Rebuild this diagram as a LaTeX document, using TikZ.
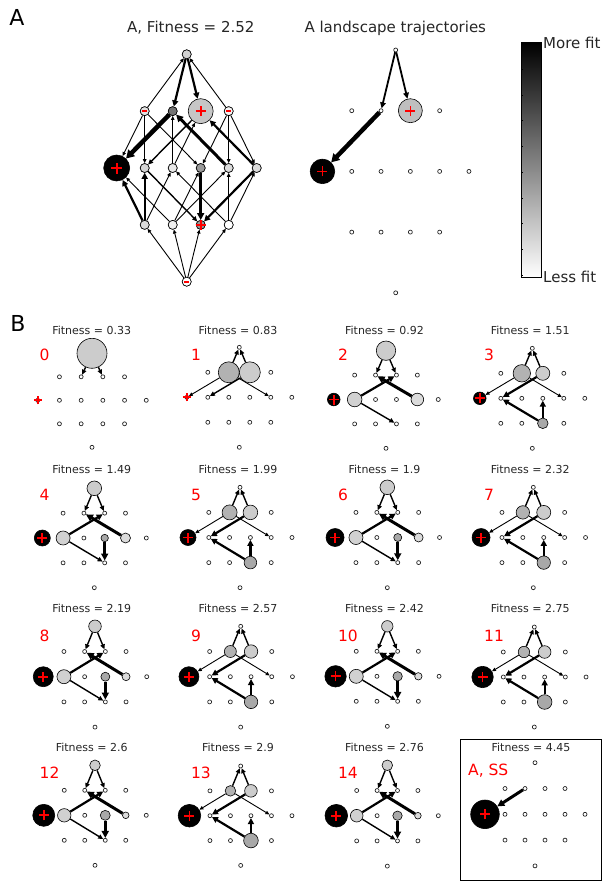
\documentclass[tikz,border=0pt]{standalone}
\usepackage{fontspec}
\setmainfont{DejaVu Sans}
\usetikzlibrary{arrows.meta}
\definecolor{gT}{gray}{0.80}
\definecolor{gAa}{gray}{0.70}
\definecolor{gAb}{gray}{0.80}
\definecolor{gdk}{gray}{0.66}
\definecolor{gbtwo}{gray}{0.82}
\definecolor{gbfive}{gray}{0.86}
\definecolor{txt}{gray}{0.15}
\definecolor{pr}{rgb}{1,0,0}
\tikzset{
 dot/.style={circle,draw=black!85,fill=white,line width=0.7pt,inner sep=0pt,minimum size=4pt},
 adot/.style={circle,draw=black,fill=white,line width=0.6pt,inner sep=0pt,minimum size=9pt},
 rn/.style={circle,draw=black,line width=0.6pt,inner sep=0pt,minimum size={2*#1}},
 e1/.style={line width=0.9pt,-{Triangle[length=4pt,width=3.5pt]}},
 e2/.style={line width=1.4pt,-{Triangle[length=5pt,width=4.5pt]}},
 e3/.style={line width=2.2pt,-{Triangle[length=6pt,width=6pt]}},
 e4/.style={line width=3pt,-{Triangle[length=7pt,width=7pt]}},
 e5/.style={line width=4.5pt,-{Triangle[length=8pt,width=9pt]}},
 ttl/.style={font=\fontsize{11}{13}\selectfont,text=txt,anchor=base,inner sep=0pt},
 bigt/.style={font=\fontsize{15}{18}\selectfont,text=txt,anchor=base,inner sep=0pt},
 num/.style={font=\fontsize{15.5}{18}\selectfont,text=red,anchor=base west,inner sep=0pt},
 lab/.style={font=\fontsize{22}{26}\selectfont,anchor=base,inner sep=0pt},
 rmark/.style={inner sep=0pt,outer sep=0pt,text=pr,anchor=center},
}
% grid of 16 genotype nodes: id, style, cx, top, dx, dy
\newcommand\mkpanel[6]{%
  \node[#2] (#1-T) at (#3,#4) {};
  \foreach \i/\f in {1/-1.5,2/-0.5,3/0.5,4/1.5}{
    \node[#2] (#1-a\i) at ({#3+(\f)*#5},{#4+#6}) {};
    \node[#2] (#1-c\i) at ({#3+(\f)*#5},{#4+3*#6}) {};
  }
  \foreach \i/\f in {1/-2.5,2/-1.5,3/-0.5,4/0.5,5/1.5,6/2.5}{
    \node[#2] (#1-b\i) at ({#3+(\f)*#5},{#4+2*#6}) {};
  }
  \node[#2] (#1-B) at (#3,{#4+4*#6}) {};
}
% red plus / minus marks as centred red bars
\newcommand\rplus[2]{%
  \node[rmark] (#1-ph) at (#1.center) {\rule[-0.85pt]{\dimexpr #2pt*2\relax}{1.7pt}};
  \node[rmark] (#1-pv) at (#1.center) {\rule[-#2pt]{1.7pt}{\dimexpr #2pt*2\relax}};}
\newcommand\rminus[1]{\node[rmark] (#1-minus) at (#1.center) {\rule[-0.8pt]{5.4pt}{1.6pt}};}
% even-type panel: id, T r, b1 r, b2 r, b4 r, b5 r
\newcommand\evenpanel[6]{%
  \node[rn=#2,fill=gT] (#1-T) at (#1-T) {};
  \node[rn=#3,fill=black] (#1-b1) at (#1-b1) {};
  \node[rn=#4,fill=gbtwo] (#1-b2) at (#1-b2) {};
  \node[rn=#5,fill=gdk] (#1-b4) at (#1-b4) {};
  \node[rn=#6,fill=gbfive] (#1-b5) at (#1-b5) {};
  \draw[e2] (#1-T) -- (#1-a2);
  \draw[e2] (#1-T) -- (#1-a3);
  \draw[e3] (#1-b2) -- (#1-a3);
  \draw[e4] (#1-b5) -- (#1-a2);
  \draw[e2] (#1-b2) -- (#1-c3);
  \draw[e4] (#1-b4) -- (#1-c3);
  \rplus{#1-b1}{5}
}
% odd-type panel: id, a2 r, a3 r, b1 r, c3 r
\newcommand\oddpanel[5]{%
  \node[rn=#2,fill=gAa] (#1-a2) at (#1-a2) {};
  \node[rn=#3,fill=gAb] (#1-a3) at (#1-a3) {};
  \node[rn=#4,fill=black] (#1-b1) at (#1-b1) {};
  \node[rn=#5,fill=gdk] (#1-c3) at (#1-c3) {};
  \draw[e2] (#1-a2) -- (#1-T);
  \draw[e2] (#1-a3) -- (#1-T);
  \draw[e1] (#1-a2) -- (#1-b1);
  \draw[e3] (#1-a3) -- (#1-b2);
  \draw[e1] (#1-a2) -- (#1-b5);
  \draw[e3] (#1-c3) -- (#1-b4);
  \draw[e3] (#1-c3) -- (#1-b2);
  \rplus{#1-b1}{5}
}
\begin{document}
\begin{tikzpicture}[x=1pt,y=-1pt]
\useasboundingbox (0,0) rectangle (603,881);
% ---------- panel labels and titles
\node[lab] (labA) at (17,25) {A};
\node[lab] (labB) at (18,331.7) {B};
\node[bigt] (tA) at (190.8,32.7) {A, Fitness = 2.52};
\node[bigt] (tTr) at (395.3,32.7) {A landscape trajectories};

% ---------- A: full landscape
\mkpanel{A}{adot}{186.7}{54.3}{28}{56.85}
\node[adot,fill=gray!35] (A-T) at (A-T) {};
\node[adot,fill=gray!22] (A-a1) at (A-a1) {};
\node[adot,fill=gray!110] (A-a2) at (A-a2) {};
\node[rn=12.5,fill=gray!45] (A-a3) at (A-a3) {};
\node[adot,fill=gray!8] (A-a4) at (A-a4) {};
\node[rn=13,fill=black] (A-b1) at (A-b1) {};
\node[adot,fill=gray!33] (A-b2) at (A-b2) {};
\node[adot,fill=gray!18] (A-b3) at (A-b3) {};
\node[adot,fill=gray!80] (A-b4) at (A-b4) {};
\node[adot,fill=gray!28] (A-b5) at (A-b5) {};
\node[adot,fill=gray!28] (A-b6) at (A-b6) {};
\node[adot,fill=gray!28] (A-c1) at (A-c1) {};
\node[adot,fill=gray!12] (A-c2) at (A-c2) {};
\node[adot,fill=gray!80] (A-c3) at (A-c3) {};
\node[adot,fill=white] (A-c4) at (A-c4) {};
\node[adot,fill=white] (A-B) at (A-B) {};
\draw[e1] (A-a1) -- (A-T);
\draw[e1] (A-a4) -- (A-T);
\draw[e3] (A-T) -- (A-a2);
\draw[e3] (A-T) -- (A-a3);
\draw[e1] (A-a1) -- (A-b1);
\draw[e1] (A-a1) -- (A-b2);
\draw[e1] (A-a1) -- (A-b4);
\draw[e5] (A-a2) -- (A-b1);
\draw[e1] (A-b3) -- (A-a2);
\draw[e4] (A-b5) -- (A-a2);
\draw[e2] (A-a3) -- (A-b2);
\draw[e1] (A-b3) -- (A-a3);
\draw[e3] (A-b6) -- (A-a3);
\draw[e1] (A-a4) -- (A-b4);
\draw[e1] (A-a4) -- (A-b5);
\draw[e1] (A-a4) -- (A-b6);
\draw[e3] (A-c1) -- (A-b1);
\draw[e1] (A-c2) -- (A-b1);
\draw[e3] (A-c1) -- (A-b2);
\draw[e2] (A-b2) -- (A-c3);
\draw[e1] (A-c1) -- (A-b3);
\draw[e1] (A-c4) -- (A-b3);
\draw[e1] (A-c2) -- (A-b4);
\draw[e4] (A-b4) -- (A-c3);
\draw[e1] (A-c2) -- (A-b5);
\draw[e1] (A-c4) -- (A-b5);
\draw[e3] (A-b6) -- (A-c3);
\draw[e1] (A-c4) -- (A-b6);
\draw[e1] (A-B) -- (A-c1);
\draw[e1] (A-B) -- (A-c2);
\draw[e1] (A-B) -- (A-c3);
\draw[e1] (A-B) -- (A-c4);
\rminus{A-a1}
\rminus{A-a4}
\rminus{A-B}
\rplus{A-a3}{5}
\rplus{A-b1}{5.5}
\rplus{A-c3}{5}

% ---------- A: trajectories
\mkpanel{Tr}{dot}{395.7}{50}{29.3}{60.7}
\node[rn=12,fill=gray!50] (Tr-a3) at (Tr-a3) {};
\node[rn=12.3,fill=black] (Tr-b1) at (Tr-b1) {};
\draw[line width=1.8pt,-{Triangle[length=6pt,width=5.5pt]}] (Tr-T) -- (Tr-a2);
\draw[line width=1.8pt,-{Triangle[length=6pt,width=5.5pt]}] (Tr-T) -- (Tr-a3);
\draw[e5] (Tr-a2) -- (Tr-b1);
\rplus{Tr-a3}{5}
\rplus{Tr-b1}{5}

% ---------- colour bar
\shade[top color=black,bottom color=white] (521,42.7) rectangle (541.7,277.3);
\draw[line width=1pt] (521,42.7) rectangle (541.7,277.3);
\foreach \k in {0,...,8}{\draw[line width=0.5pt] (521,{69.3+25.7*\k}) -- ++(2,0);}
\node[bigt,anchor=base west] (more) at (543,48.3) {More fit};
\node[bigt,anchor=base west] (less) at (543,282.3) {Less fit};

% ---------- B: row titles and numbers
\foreach \r/\yt/\yn in {0/334/360.7,1/473.3/500,2/612/641,3/751.3/778.7}{
  \foreach \c/\xt/\xn in {0/91.7/39.5,1/238/190.8,2/384.5/337.8,3/530.2/484}{
    \pgfmathtruncatemacro\pid{4*\r+\c}
    \ifnum\pid<15
      \node[num] (n\pid) at (\xn,\yn) {\pid};
    \fi
  }
}
\node[ttl] (f0) at (91.7,334) {Fitness = 0.33};
\node[ttl] (f1) at (238,334) {Fitness = 0.83};
\node[ttl] (f2) at (384.5,334) {Fitness = 0.92};
\node[ttl] (f3) at (530.2,334) {Fitness = 1.51};
\node[ttl] (f4) at (91.7,473.3) {Fitness = 1.49};
\node[ttl] (f5) at (238,473.3) {Fitness = 1.99};
\node[ttl] (f6) at (384.5,473.3) {Fitness = 1.9};
\node[ttl] (f7) at (530.2,473.3) {Fitness = 2.32};
\node[ttl] (f8) at (91.7,612) {Fitness = 2.19};
\node[ttl] (f9) at (238,612) {Fitness = 2.57};
\node[ttl] (f10) at (384.5,612) {Fitness = 2.42};
\node[ttl] (f11) at (530.2,612) {Fitness = 2.75};
\node[ttl] (f12) at (91.7,751.3) {Fitness = 2.6};
\node[ttl] (f13) at (238,751.3) {Fitness = 2.9};
\node[ttl] (f14) at (384.5,751.3) {Fitness = 2.76};
\node[ttl] (fSS) at (531,751.7) {Fitness = 4.45};

% ---------- B panels
% 0
\mkpanel{p0}{dot}{92}{353.3}{21.7}{23.5}
\node[rn=15,fill=gT] (p0-T) at (p0-T) {};
\draw[e2] (p0-T) -- (p0-a2);
\draw[e2] (p0-T) -- (p0-a3);
\rplus{p0-b1}{4}
% 1
\mkpanel{p1}{dot}{239.3}{347.3}{21}{25}
\node[rn=10.5,fill=gAa] (p1-a2) at (p1-a2) {};
\node[rn=10.5,fill=gAb] (p1-a3) at (p1-a3) {};
\draw[e2] (p1-a2) -- (p1-T);
\draw[e2] (p1-a3) -- (p1-T);
\draw[e1] (p1-a2) -- (p1-b1);
\draw[e2] (p1-a3) -- (p1-b2);
\draw[e1] (p1-a2) -- (p1-b5);
\rplus{p1-b1}{4}
% 2
\mkpanel{p2}{dot}{386}{350.7}{20.9}{24.4}
\node[rn=9.7,fill=gT] (p2-T) at (p2-T) {};
\node[rn=6.3,fill=black] (p2-b1) at (p2-b1) {};
\node[rn=7.3,fill=gbtwo] (p2-b2) at (p2-b2) {};
\node[rn=6.3,fill=gbfive] (p2-b5) at (p2-b5) {};
\draw[e2] (p2-T) -- (p2-a2);
\draw[e2] (p2-T) -- (p2-a3);
\draw[e3] (p2-b2) -- (p2-a3);
\draw[e4] (p2-b5) -- (p2-a2);
\draw[e2] (p2-b2) -- (p2-c3);
\rplus{p2-b1}{5}
% 3
\mkpanel{p3}{dot}{532.3}{348.3}{21}{25}
\oddpanel{p3}{8.7}{7}{6.3}{5.3}
% 4
\mkpanel{p4}{dot}{94.3}{488.3}{20.8}{24.85}
\evenpanel{p4}{7.3}{8}{7}{3.7}{5}
% 5
\mkpanel{p5}{dot}{240}{487.3}{20.8}{25.1}
\oddpanel{p5}{7.5}{7.3}{8}{6.3}
% 6
\mkpanel{p6}{dot}{387.3}{487.3}{20.9}{25.1}
\evenpanel{p6}{7.3}{9}{7}{4}{4.5}
% 7
\mkpanel{p7}{dot}{533.3}{487.3}{20.9}{25.1}
\oddpanel{p7}{6.7}{7}{9}{6.7}
% 8
\mkpanel{p8}{dot}{95}{626.3}{20.7}{25.2}
\evenpanel{p8}{6.3}{10}{7}{4.5}{4}
% 9
\mkpanel{p9}{dot}{240.7}{626.3}{20.7}{25.2}
\oddpanel{p9}{6}{6.7}{10}{6.7}
% 10
\mkpanel{p10}{dot}{387.3}{626.3}{20.7}{25}
\evenpanel{p10}{5.7}{10.7}{7}{4.7}{3.7}
% 11
\mkpanel{p11}{dot}{534.3}{627}{20.7}{25}
\oddpanel{p11}{5.7}{6.3}{10.7}{7.3}
% 12
\mkpanel{p12}{dot}{95}{765.3}{20.5}{25}
\evenpanel{p12}{5.3}{11}{6.7}{5}{3.3}
% 13
\mkpanel{p13}{dot}{240.7}{766}{20.5}{24.85}
\oddpanel{p13}{5.3}{6.3}{11.3}{7.3}
% 14
\mkpanel{p14}{dot}{387.3}{765.3}{20.4}{25.2}
\evenpanel{p14}{5.3}{11.3}{6.3}{4.7}{3.3}
% SS
\draw[line width=0.8pt] (460,739) rectangle (601.7,880);
\mkpanel{ss}{dot}{535}{762.7}{20}{25.8}
\node[rn=14.3,fill=black] (ss-b1) at (ss-b1) {};
\draw[e4] (ss-a2) -- (ss-b1);
\rplus{ss-b1}{5}
\node[num] (nss) at (468,775) {A, SS};
\end{tikzpicture}
\end{document}
